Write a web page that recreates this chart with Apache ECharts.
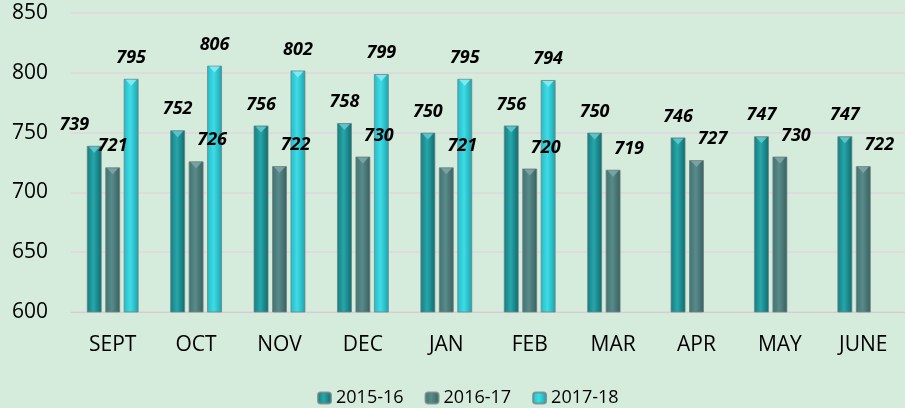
<!DOCTYPE html>
<html>
<head>
<meta charset="utf-8">
<script src="https://cdn.jsdelivr.net/npm/echarts@6/dist/echarts.min.js"></script>
<style>
  html, body { margin: 0; padding: 0; background: #d5ebdc; }
  #chart { width: 905px; height: 408px; }
</style>
</head>
<body>
<div id="chart"></div>
<script>
const months = ['SEPT', 'OCT', 'NOV', 'DEC', 'JAN', 'FEB', 'MAR', 'APR', 'MAY', 'JUNE']
const seriesNames = ['2015-16', '2016-17', '2017-18']

const y2015 = [739, 752, 756, 758, 750, 756, 750, 746, 747, 747]
const y2016 = [721, 726, 722, 730, 721, 720, 719, 727, 730, 722]
const y2017 = [795, 806, 802, 799, 795, 794, null, null, null, null]

const yMin = 600
const yMax = 850
const yStep = 50

const chart = echarts.init(document.getElementById('chart'))

const grad = (a, b, c) => new echarts.graphic.LinearGradient(0, 0, 1, 0, [
  { offset: 0, color: a },
  { offset: 0.45, color: b },
  { offset: 1, color: c }
])

const barColors = [
  grad('#137c80', '#27a6aa', '#0d6a6d'),
  grad('#427171', '#588b8a', '#385f5f'),
  grad('#1fbcc8', '#40dbe5', '#17a3ad')
]
const capColors = ['#63c8cc', '#7ea5a5', '#86ecf1']

const labelFont = {
  color: '#000',
  fontFamily: 'Open Sans',
  fontWeight: 'bold',
  fontStyle: 'italic',
  fontSize: 18
}

const barWidth = 15
const barGap = 0.23
const step = barWidth * (1 + barGap)

const bar = (name, values, idx, labelOffset, firstOffset) => ({
  name,
  type: 'bar',
  barWidth,
  barGap: '23%',
  data: values.map((v, i) => (i === 0 && firstOffset)
    ? { value: v, label: { offset: firstOffset } }
    : v),
  itemStyle: {
    color: barColors[idx],
    borderColor: 'rgba(110,130,130,0.75)',
    borderWidth: 1
  },
  label: {
    show: true,
    position: 'top',
    distance: 12,
    offset: labelOffset,
    ...labelFont
  },
  z: 2
})

// light triangle on top of each bar
const cap = (values, idx) => ({
  name: seriesNames[idx] + ' cap',
  type: 'scatter',
  data: values,
  symbol: 'triangle',
  symbolRotate: 180,
  symbolSize: [11, 6],
  symbolOffset: [(idx - 1) * step, 4],
  itemStyle: { color: capColors[idx], opacity: 0.9 },
  silent: true,
  z: 3
})

const option = {
  backgroundColor: '#d5ebdc',
  animation: false,

  grid: {
    left: 71,
    right: 0,
    top: 13,
    bottom: 96
  },

  legend: {
    data: seriesNames,
    top: 384,
    left: 312,
    itemWidth: 13,
    itemHeight: 11,
    itemGap: 21,
    textStyle: {
      color: '#000',
      fontFamily: 'Open Sans',
      fontSize: 18
    }
  },

  xAxis: {
    type: 'category',
    data: months,
    axisLine: { lineStyle: { color: '#cfcfcf', width: 1 } },
    axisTick: { show: false },
    axisLabel: {
      color: '#000',
      fontFamily: 'Open Sans',
      fontSize: 21,
      margin: 23
    }
  },

  yAxis: {
    type: 'value',
    min: yMin,
    max: yMax,
    interval: yStep,
    axisLine: { show: false },
    axisTick: { show: false },
    axisLabel: {
      color: '#000',
      fontFamily: 'Open Sans',
      fontSize: 21,
      margin: 23
    },
    splitLine: {
      lineStyle: { color: '#e1d6dc', width: 1.5 }
    }
  },

  series: [
    bar(seriesNames[0], y2015, 0, [0, 0], [-20, 0]),
    bar(seriesNames[1], y2016, 1, [16, 0], [0, 0]),
    bar(seriesNames[2], y2017, 2, [0, 0], null),
    cap(y2015, 0),
    cap(y2016, 1),
    cap(y2017, 2)
  ]
}

chart.setOption(option)
</script>
</body>
</html>
